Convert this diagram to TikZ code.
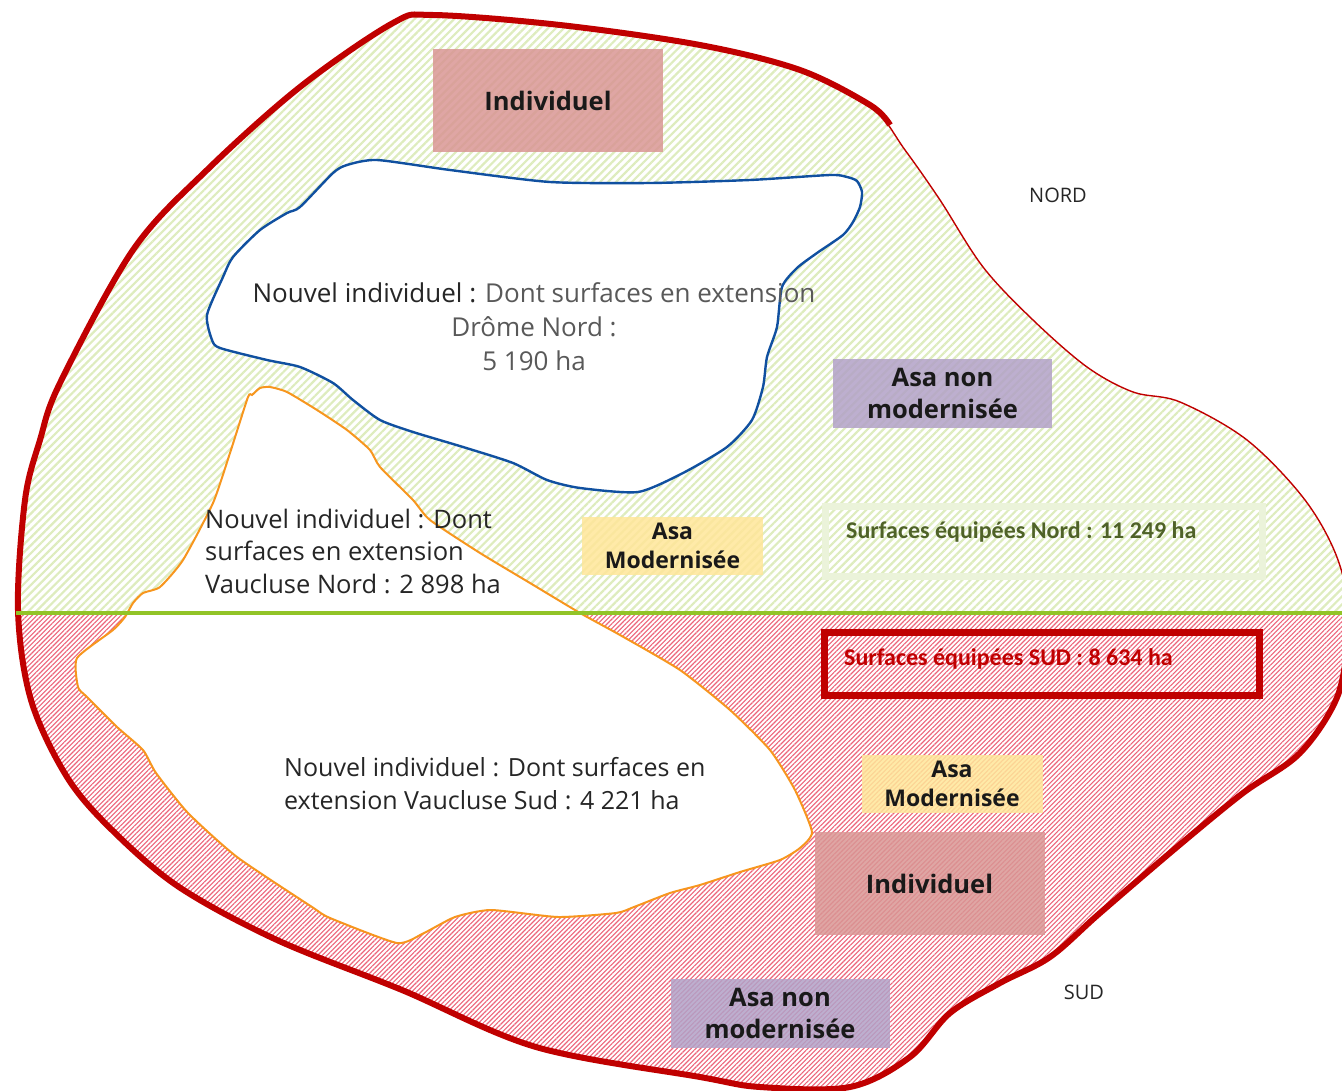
\documentclass[tikz,border=0pt]{standalone}
\usepackage{fontspec}
\setmainfont{Open Sans}
\newfontfamily\calfont{Carlito}
\usepackage{tikz}
\usetikzlibrary{patterns.meta}
\definecolor{rimred}{RGB}{192, 0, 0}
\definecolor{hatchnord}{RGB}{222, 236, 190}
\definecolor{hatchsud}{RGB}{236, 100, 122}
\definecolor{splitgreen}{RGB}{146, 196, 40}
\definecolor{blobblue}{RGB}{16, 80, 160}
\definecolor{bloborange}{RGB}{247, 150, 30}
\definecolor{indivpink}{RGB}{217, 150, 148}
\definecolor{asapurple}{RGB}{178, 161, 199}
\definecolor{asagold}{RGB}{255, 230, 153}
\definecolor{nordframe}{RGB}{235, 243, 218}
\definecolor{nordtext}{RGB}{79, 98, 40}
\definecolor{fontdark}{RGB}{38, 38, 38}
\definecolor{fontgray}{RGB}{89, 89, 89}
% outline of the whole zone
\newcommand{\zonepath}{plot[smooth cycle, tension=0.55] coordinates {(433,15) (560,25) (700,45) (800,70) (870,105) (905,150) (940,200) (983,267) (1033,320) (1087,367) (1133,392) (1180,402) (1247,440) (1305,500) (1338,560) (1350,625) (1338,695) (1300,753) (1243,793) (1177,847) (1100,913) (1050,957) (1000,983) (950,1013) (910,1057) (850,1087) (760,1087) (700,1077) (536,1047) (402,990) (277,940) (179,887) (112,830) (67,777) (31,700) (18,610) (25,500) (40,440) (60,383) (133,250) (207,170) (300,87) (393,23)}}
\newcommand{\rimpath}{plot[smooth, tension=0.55] coordinates {(1350,625) (1338,695) (1300,753) (1243,793) (1177,847) (1100,913) (1050,957) (1000,983) (950,1013) (910,1057) (850,1087) (760,1087) (700,1077) (536,1047) (402,990) (277,940) (179,887) (112,830) (67,777) (31,700) (18,610) (25,500) (40,440) (60,383) (133,250) (207,170) (300,87) (393,23) (433,15) (560,25) (700,45) (800,70) (870,105) (890,125)}}
\newcommand{\dromepath}{plot[smooth cycle, tension=0.4] coordinates {(377,160) (450,170) (550,182) (650,183) (750,180) (830,175) (847,177) (857,181) (862,192) (860,207) (853,222) (843,235) (817,253) (797,268) (782,287) (777,327) (767,357) (763,387) (752,420) (727,447) (683,473) (638,492) (580,488) (547,480) (513,463) (463,447) (413,432) (380,420) (353,400) (333,383) (300,367) (267,360) (220,348) (212,340) (207,315) (223,277) (233,257) (260,230) (287,213) (300,207) (333,173) (347,165)}}
\newcommand{\vauclusepath}{plot[smooth cycle, tension=0.35] coordinates {(260,388) (270,387) (287,392) (317,410) (347,430) (370,450) (380,467) (413,500) (430,520) (480,553) (530,583) (580,613) (620,635) (680,670) (730,710) (770,750) (795,790) (812,832) (800,848) (780,860) (740,872) (700,885) (670,893) (634,907) (616,913) (558,917) (491,910) (455,917) (424,933) (397,943) (330,918) (312,907) (237,857) (188,813) (156,773) (143,750) (117,727) (87,697) (78,687) (77,658) (113,630) (125,617) (133,603) (143,593) (160,587) (183,560) (213,503) (230,453) (248,397) (252,395)}}

\begin{document}
\begin{tikzpicture}[x=1pt, y=-1pt,
		nordHatch/.style={pattern={Lines[angle=45, distance=5.6pt, line width=2.2pt]}, pattern color=hatchnord},
		sudHatch/.style={pattern={Lines[angle=45, distance=3.3pt, line width=1.1pt]}, pattern color=hatchsud},
		rimThin/.style={draw=rimred, line width=1.4pt},
		rimThick/.style={draw=rimred, line width=6pt},
		dromeLine/.style={draw=blobblue, line width=2.4pt, fill=white},
		vaucluseLine/.style={draw=bloborange, line width=2pt, fill=white},
		splitLine/.style={draw=splitgreen, line width=4pt},
		blobText/.style={inner sep=0pt, font=\fontsize{26}{34}\selectfont, text=fontdark},
		compass/.style={inner sep=0pt, font=\fontsize{20}{24}\selectfont, text=fontdark},
		tag/.style={inner sep=0pt, align=center, fill opacity=0.85, text opacity=1, text=black!90, font=\bfseries\fontsize{25.5}{32}\selectfont},
		indiv/.style={tag, fill=indivpink, minimum width=230pt, minimum height=103pt},
		asaNon/.style={tag, fill=asapurple, minimum width=219pt, minimum height=69pt},
		asaMod/.style={tag, fill=asagold, minimum width=181pt, minimum height=58pt, font=\bfseries\fontsize{23}{29}\selectfont},
		nordFrame/.style={draw=nordframe, line width=7pt, minimum width=437pt, minimum height=70pt, inner sep=0pt},
		sudFrame/.style={draw=rimred, line width=7pt, minimum width=435pt, minimum height=63pt, inner sep=0pt},
		surfText/.style={anchor=west, inner sep=0pt, font=\calfont\bfseries\fontsize{24}{28}\selectfont},
		]
		\useasboundingbox (0,0) rectangle (1342,1091);
		
		% hatched zones
		\begin{scope}
			\clip (0,0) rectangle (1342,613);
			\fill[nordHatch] \zonepath;
		\end{scope}
		\begin{scope}
			\clip (0,613) rectangle (1342,1091);
			\fill[sudHatch] \zonepath;
		\end{scope}
		
		\draw[rimThin] \zonepath;
		\draw[rimThick] \rimpath;
		
		\path[dromeLine] \dromepath;
		\path[vaucluseLine] \vauclusepath;
		
		\coordinate (splitW) at (16,613);
		\coordinate (splitE) at (1345,613);
		\draw[splitLine] (splitW) -- (splitE);
		
		\node[blobText, align=center, text=fontgray] (dromeTxt) at (534,327) {\textcolor{fontdark}{Nouvel individuel :} Dont surfaces en extension\\Drôme Nord :\\5 190 ha};
		\node[blobText, align=left, anchor=west, font=\fontsize{25.5}{32.5}\selectfont] (vnordTxt) at (205,551) {Nouvel individuel : Dont\\surfaces en extension\\Vaucluse Nord : 2 898 ha};
		\node[blobText, align=left, anchor=west, font=\fontsize{25}{33}\selectfont] (vsudTxt) at (284,783.5) {Nouvel individuel : Dont surfaces en\\extension Vaucluse Sud : 4 221 ha};
		
		\node[compass] (nord) at (1058,195) {NORD};
		\node[compass] (sud) at (1084,992) {SUD};
		
		\node[indiv] (indivN) at (548,100.5) {Individuel};
		\node[asaNon] (asaNonN) at (942.5,393.5) {Asa non\\modernisée};
		\node[asaMod] (asaModN) at (672.5,546) {Asa\\Modernisée};
		\node[nordFrame] (nordBox) at (1044,541.5) {};
		\node[surfText, text=nordtext] (nordLbl) at (846,532) {Surfaces équipées Nord : 11 249 ha};
		
		\node[sudFrame] (sudBox) at (1042,664) {};
		\node[surfText, text=rimred] (sudLbl) at (844,659) {Surfaces équipées SUD : 8 634 ha};
		\node[asaMod] (asaModS) at (952,783.5) {Asa\\Modernisée};
		\node[indiv] (indivS) at (929.5,883.5) {Individuel};
		\node[asaNon] (asaNonS) at (780,1013.5) {Asa non\\modernisée};
		
\end{tikzpicture}
\end{document}
